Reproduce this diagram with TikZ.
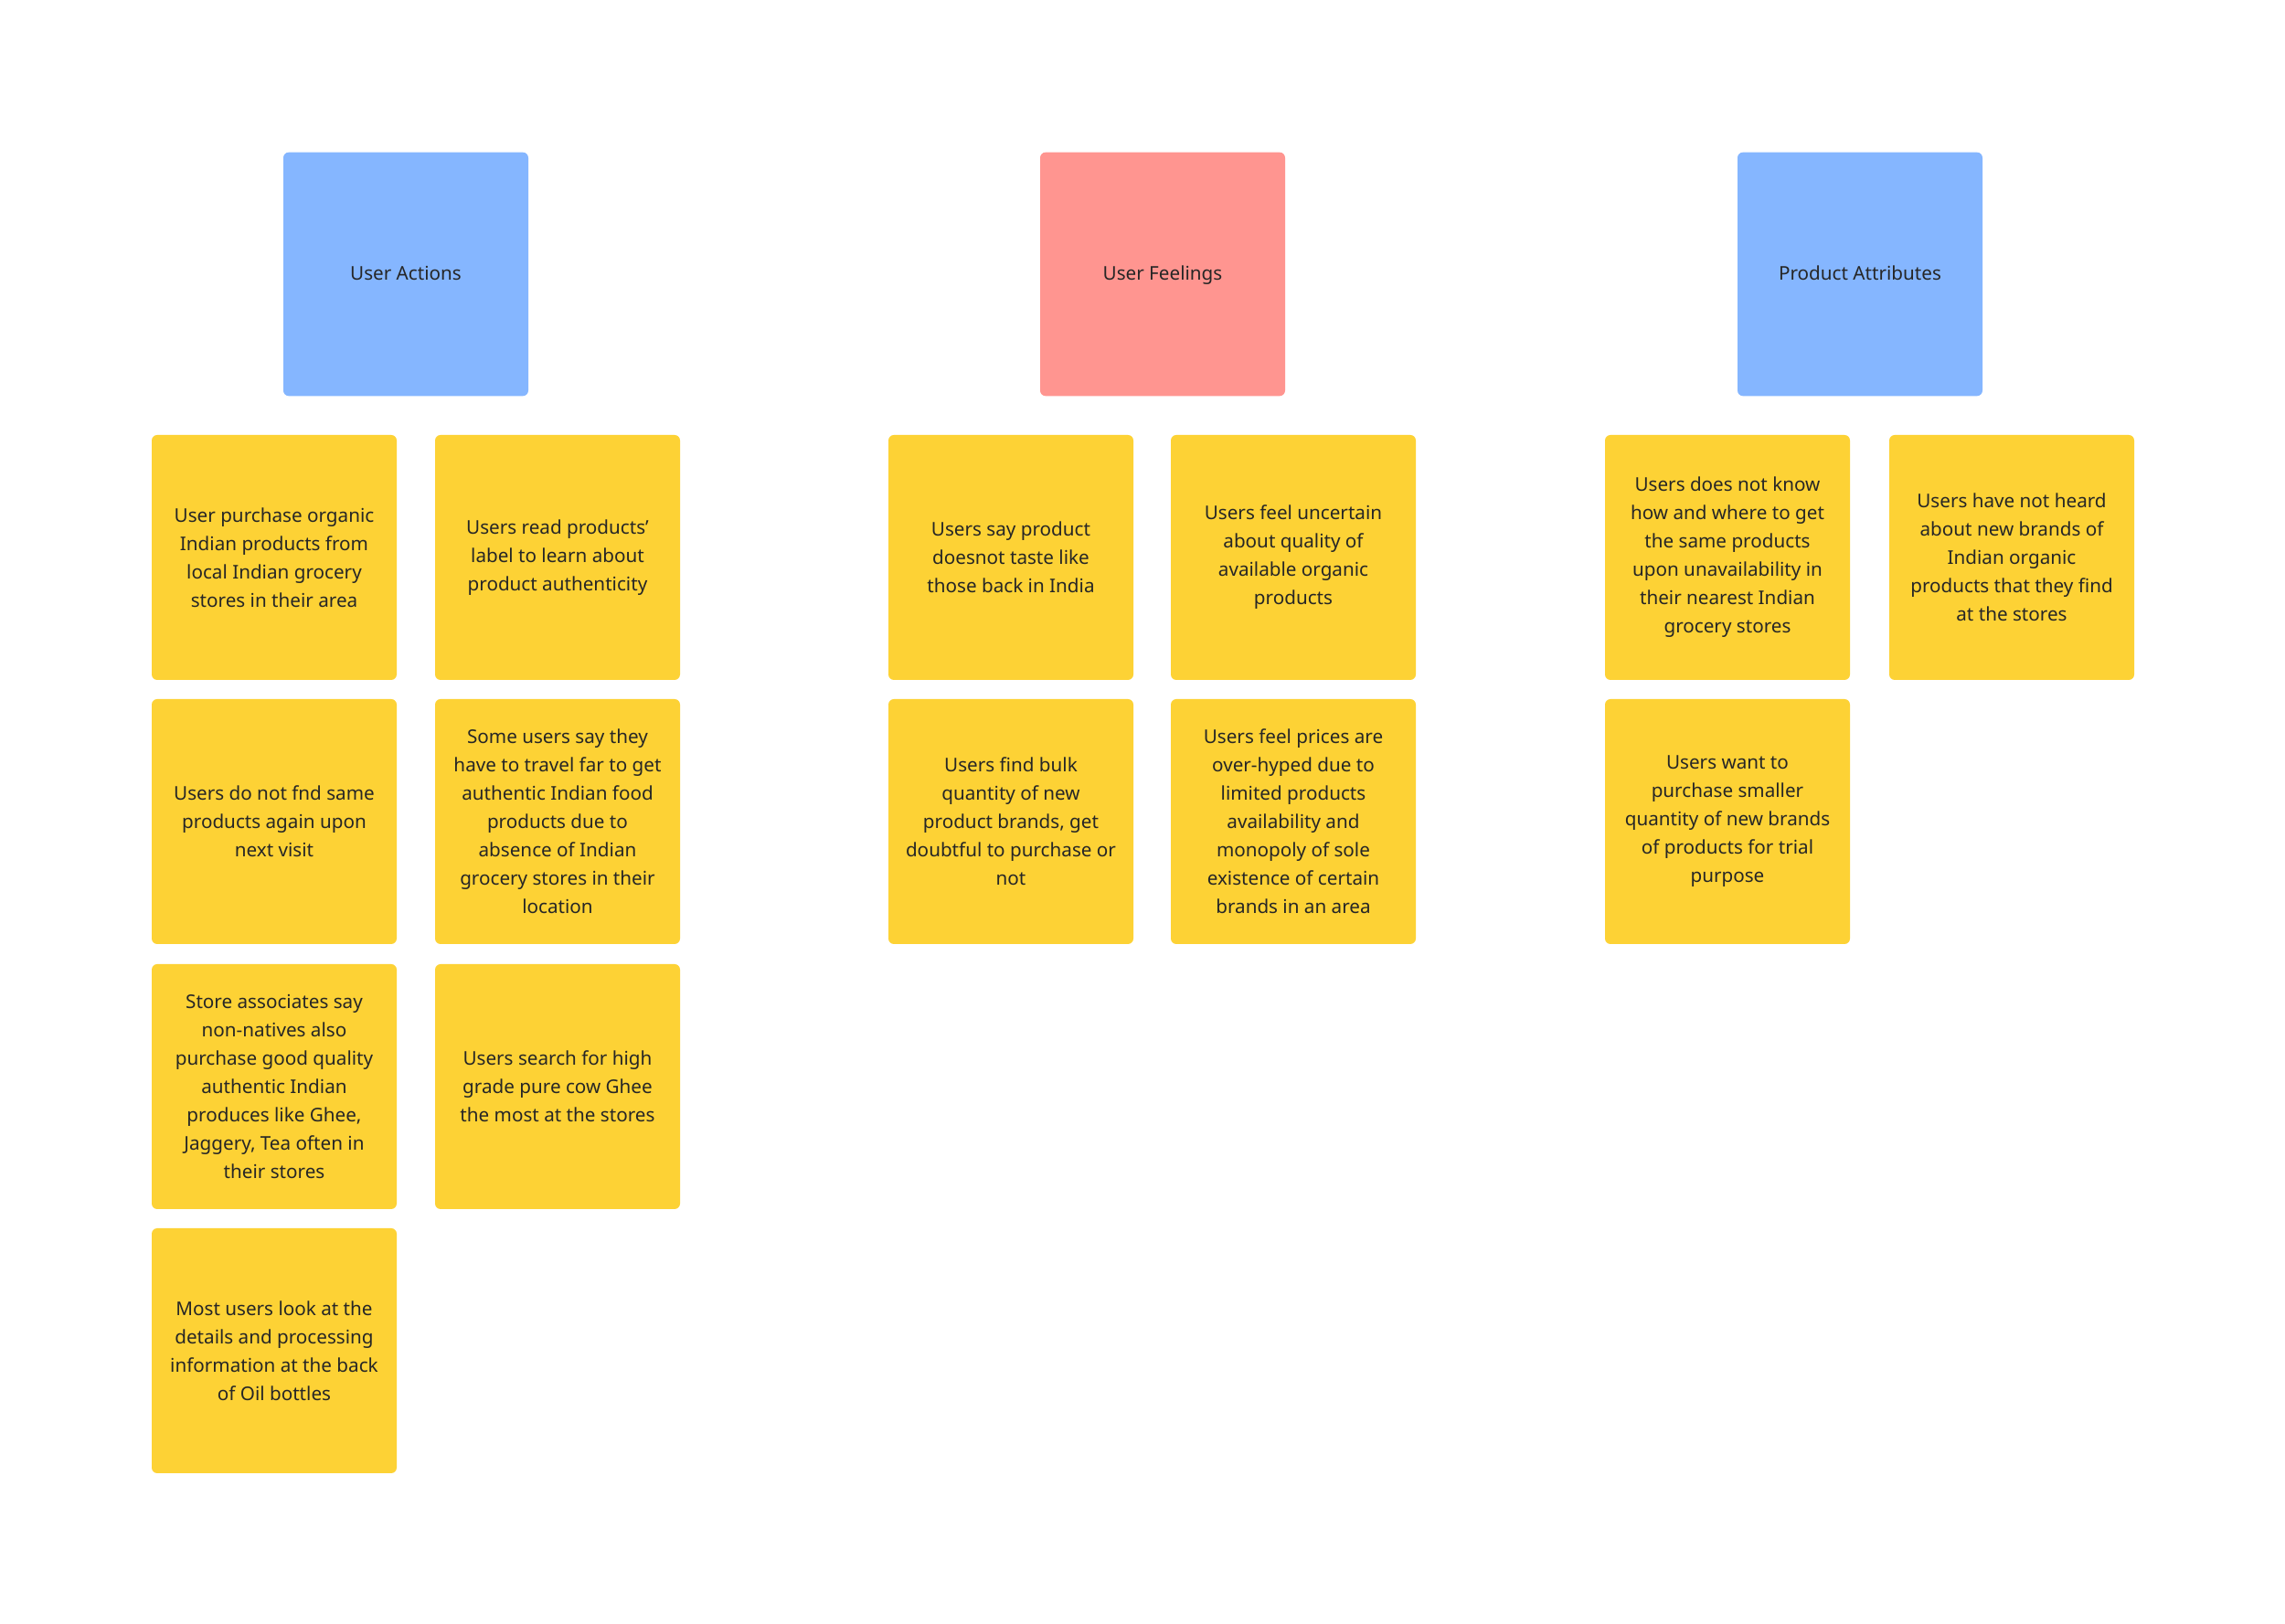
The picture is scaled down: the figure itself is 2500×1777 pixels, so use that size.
\documentclass[tikz,border=0pt]{standalone}
\usepackage{fontspec}
\setmainfont{Noto Sans}
\definecolor{hblue}{HTML}{85B6FF}
\definecolor{hred}{HTML}{FF9590}
\definecolor{sticky}{HTML}{FDD235}
\definecolor{ink}{HTML}{262626}
\begin{document}
\begin{tikzpicture}[x=0.3pt,y=-0.3pt,
  card/.style={rectangle, rounded corners=1.8pt, minimum width=80.4pt, minimum height=80.4pt,
    inner sep=0pt, align=center, text=ink, font=\fontsize{6.2pt}{9.3pt}\selectfont},
  header/.style={card, fill=hblue, minimum height=80pt, text height=4.6pt, text depth=0.6pt},
  headerred/.style={header, fill=hred},
  note/.style={card, fill=sticky}]
\fill[white] (-1,-1) rectangle (2499,1776);
\useasboundingbox (-1,-1) rectangle (2499,1776);
% headers
\node[header] (ua) at (443,299) {User Actions};
\node[headerred] (uf) at (1271,299) {User Feelings};
\node[header] (pa) at (2034,299) {Product Attributes};
% User Actions
\node[note] (a1) at (299,609) {User purchase organic\\Indian products from\\local Indian grocery\\stores in their area};
\node[note] (a2) at (609,609) {Users read products'\\label to learn about\\product authenticity};
\node[note] (a3) at (299,898) {Users do not fnd same\\products again upon\\next visit};
\node[note] (a4) at (609,898) {Some users say they\\have to travel far to get\\authentic Indian food\\products due to\\absence of Indian\\grocery stores in their\\location};
\node[note] (a5) at (299,1188) {Store associates say\\non-natives also\\purchase good quality\\authentic Indian\\produces like Ghee,\\Jaggery, Tea often in\\their stores};
\node[note] (a6) at (609,1188) {Users search for high\\grade pure cow Ghee\\the most at the stores};
\node[note] (a7) at (299,1477) {Most users look at the\\details and processing\\information at the back\\of Oil bottles};
% User Feelings
\node[note] (f1) at (1105,609) {Users say product\\doesnot taste like\\those back in India};
\node[note] (f2) at (1414,609) {Users feel uncertain\\about quality of\\available organic\\products};
\node[note] (f3) at (1105,898) {Users find bulk\\quantity of new\\product brands, get\\doubtful to purchase or\\not};
\node[note] (f4) at (1414,898) {Users feel prices are\\over-hyped due to\\limited products\\availability and\\monopoly of sole\\existence of certain\\brands in an area};
% Product Attributes
\node[note] (p1) at (1889,609) {Users does not know\\how and where to get\\the same products\\upon unavailability in\\their nearest Indian\\grocery stores};
\node[note] (p2) at (2200,609) {Users have not heard\\about new brands of\\Indian organic\\products that they find\\at the stores};
\node[note] (p3) at (1889,898) {Users want to\\purchase smaller\\quantity of new brands\\of products for trial\\purpose};
\end{tikzpicture}
\end{document}
